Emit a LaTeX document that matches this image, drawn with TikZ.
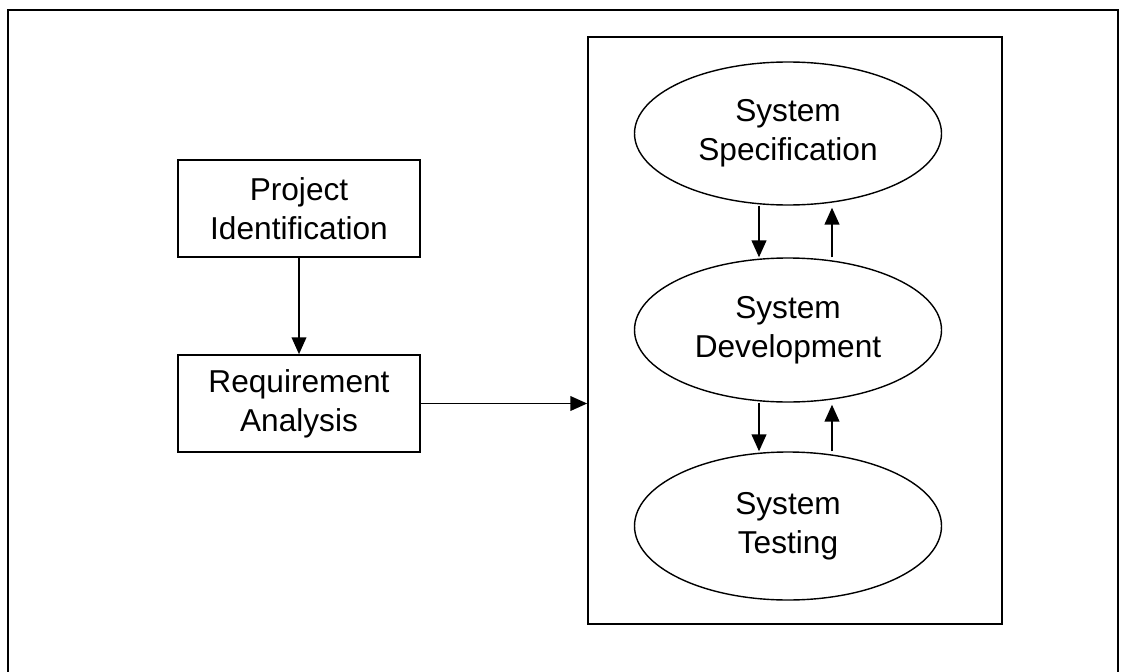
\documentclass[tikz,border=0pt]{standalone}
\usepackage{fontspec}
\setmainfont{Liberation Sans}
\usetikzlibrary{shapes.geometric,arrows.meta}

\begin{document}
\begin{tikzpicture}[>={Triangle[length=12pt,width=10.5pt]},
    font=\fontsize{22.5}{27.5}\selectfont,
    stage/.style={draw, line width=1.2pt, align=center, minimum width=6.05cm, minimum height=2.425cm, inner sep=0pt},
    phase/.style={draw, ellipse, line width=1pt, align=center, minimum width=7.675cm, inner sep=0pt},
    link/.style={->, line width=1.1pt}]

    \useasboundingbox (0,0) rectangle (28.025,-16.8);
    \draw [line width=1.5pt] (0.2,-16.8) -- (0.2,-0.25) -- (27.95,-0.25) -- (27.95,-16.8);

    \node (devbox) [draw, line width=1.2pt, minimum width=10.35cm, minimum height=14.68cm] at (19.875, -8.26) {};

    \node (pi) [stage] at (7.475, -5.2125) {\raisebox{-4pt}{\shortstack{Project\\[4pt]Identification}}};
    \node (ra) [stage] at (7.475, -10.0875) {\raisebox{-4pt}{\shortstack{Requirement\\[4pt]Analysis}}};

    \node (ss) [phase, minimum height=3.575cm] at (19.7, -3.3375) {\raisebox{-3pt}{\shortstack{System\\[4pt]Specification}}};
    \node (sd) [phase, minimum height=3.6cm] at (19.7, -8.25) {\raisebox{-3pt}{\shortstack{System\\[4pt]Development}}};
    \node (st) [phase, minimum height=3.7cm] at (19.7, -13.15) {\raisebox{-3pt}{\shortstack{System\\[4pt]Testing}}};

    \draw [link] (pi) to (ra);
    \draw [link] (ra) to (ra -| devbox.west);
    \draw [link] ([xshift=-0.725cm]ss.south) to ([xshift=-0.725cm]sd.north);
    \draw [link] ([xshift=1.1cm]sd.north) to ([xshift=1.1cm, yshift=-0.05cm]ss.south);
    \draw [link] ([xshift=-0.725cm]sd.south) to ([xshift=-0.725cm]st.north);
    \draw [link] ([xshift=1.1cm]st.north) to ([xshift=1.1cm, yshift=-0.05cm]sd.south);

\end{tikzpicture}
\end{document}
